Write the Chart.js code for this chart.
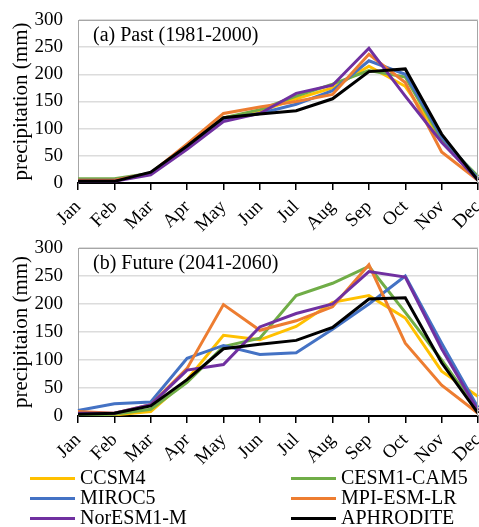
<!DOCTYPE html>
<html>
<head>
<meta charset="utf-8">
<script src="https://cdn.jsdelivr.net/npm/chart.js@4/dist/chart.umd.min.js"></script>
<style>
  body { margin: 0; background: #fff; width: 479px; height: 527px; overflow: hidden; position: relative; font-family: "Liberation Serif", serif; }
  canvas { position: absolute; left: 0; }
  #past { top: 0; }
  #future { top: 235px; }
  #legend { position: absolute; left: 0; top: 466px; width: 479px; }
  .item { position: absolute; height: 22px; font-size: 20px; line-height: 22px; color: #000; white-space: nowrap; }
  .item span.sw { position: absolute; left: 0; top: 11px; width: 45px; height: 3px; }
  .item span.lb { position: absolute; left: 50px; top: 0; }
</style>
</head>
<body>
<canvas id="past" width="479" height="235"></canvas>
<canvas id="future" width="479" height="240"></canvas>
<div id="legend"></div>
<script>
// months on the x axis
const months = ['Jan', 'Feb', 'Mar', 'Apr', 'May', 'Jun', 'Jul', 'Aug', 'Sep', 'Oct', 'Nov', 'Dec'];
const yMax = 300;
const yStep = 50;

const models = ['CCSM4', 'CESM1-CAM5', 'MIROC5', 'MPI-ESM-LR', 'NorESM1-M', 'APHRODITE'];
const colors = ['#FFC000', '#70AD47', '#4472C4', '#ED7D31', '#7030A0', '#000000'];

// (a) Past (1981-2000), mm
const pastCCSM4 = [5, 5, 18, 68, 120, 132, 155, 175, 215, 178, 80, 8];
const pastCESM1 = [8, 8, 18, 68, 120, 135, 160, 182, 207, 195, 80, 12];
const pastMIROC5 = [5, 5, 18, 68, 118, 128, 145, 170, 225, 200, 85, 8];
const pastMPI = [5, 5, 18, 72, 128, 140, 150, 163, 237, 185, 57, 5];
const pastNorESM = [3, 3, 15, 62, 113, 128, 165, 180, 248, 160, 75, 5];
const pastAphro = [3, 3, 20, 68, 120, 127, 133, 155, 205, 210, 90, 5];

// (b) Future (2041-2060), mm
const futCCSM4 = [0, 2, 8, 65, 144, 136, 160, 203, 215, 175, 80, 35];
const futCESM1 = [2, 3, 12, 60, 124, 139, 215, 237, 267, 185, 100, 10];
const futMIROC5 = [10, 22, 25, 103, 126, 110, 113, 155, 200, 250, 130, 15];
const futMPI = [8, 5, 20, 85, 199, 153, 170, 195, 270, 130, 55, 5];
const futNorESM = [5, 5, 20, 82, 92, 159, 183, 200, 258, 248, 120, 10];
const futAphro = [3, 5, 18, 65, 120, 128, 135, 158, 209, 211, 95, 5];

const serif = '"Liberation Serif", "Times New Roman", serif';

// frame on top/right and the panel caption
const frame = {
  id: 'frame',
  afterDraw(chart, args, opts) {
    const { ctx, chartArea: a } = chart;
    ctx.save();
    ctx.strokeStyle = '#a6a6a6';
    ctx.lineWidth = 1;
    ctx.beginPath();
    ctx.moveTo(a.left, a.top + 0.5);
    ctx.lineTo(a.right - 0.5, a.top + 0.5);
    ctx.lineTo(a.right - 0.5, a.bottom);
    ctx.stroke();
    ctx.font = '20px ' + serif;
    ctx.fillStyle = '#000';
    ctx.textBaseline = 'middle';
    ctx.fillText(opts.text, a.left + 15, a.top + 16);
    ctx.restore();
  }
};

function makeChart(id, series, caption, yTitle, padTop, xHeight) {
  const datasets = series.map((data, i) => ({
    label: models[i],
    data: data,
    borderColor: colors[i],
    backgroundColor: colors[i],
    borderWidth: 3,
    pointRadius: 0,
    tension: 0,
    fill: false,
    order: i === 5 ? 0 : 6 - i
  }));
  return new Chart(document.getElementById(id), {
    type: 'line',
    data: { labels: months, datasets: datasets },
    plugins: [frame],
    options: {
      responsive: false,
      animation: false,
      devicePixelRatio: 1,
      layout: { padding: { top: padTop, right: 1, left: 0, bottom: 0 } },
      plugins: {
        legend: { display: false },
        tooltip: { enabled: false },
        frame: { text: caption }
      },
      scales: {
        x: {
          offset: false,
          grid: { drawOnChartArea: false, drawTicks: true, tickLength: 7, color: '#000', lineWidth: 1.5 },
          border: { color: '#000', width: 2 },
          ticks: { autoSkip: false, color: '#000', font: { family: serif, size: 19 }, minRotation: 45, maxRotation: 45, padding: 6 },
          afterFit(s) { s.height = xHeight; s.paddingLeft = 0; s.paddingRight = 0; }
        },
        y: {
          min: 0,
          max: yMax,
          grid: { color: '#dcdcdc', lineWidth: 1.5, drawTicks: false },
          border: { color: '#a6a6a6', width: 1 },
          ticks: { autoSkip: false, stepSize: yStep, color: '#000', font: { family: serif, size: 19 }, padding: 15 },
          title: { display: true, text: yTitle, color: '#000', font: { family: serif, size: 21 }, padding: { top: 9, bottom: 0 } },
          afterFit(s) { s.width = 78; s.paddingTop = 0; s.paddingBottom = 0; }
        }
      }
    }
  });
}

makeChart('past', [pastCCSM4, pastCESM1, pastMIROC5, pastMPI, pastNorESM, pastAphro],
  '(a) Past (1981-2000)', 'precipitation (mm)', 20, 52);
makeChart('future', [futCCSM4, futCESM1, futMIROC5, futMPI, futNorESM, futAphro],
  '(b) Future (2041-2060)', 'precipitaion (mm)', 13, 59);

// legend in two columns, three rows
const legend = document.getElementById('legend');
models.forEach((name, i) => {
  const col = i % 2;
  const row = Math.floor(i / 2);
  const item = document.createElement('div');
  item.className = 'item';
  item.style.left = (col === 0 ? 30 : 291) + 'px';
  item.style.top = (row * 20) + 'px';
  item.innerHTML = '<span class="sw" style="background:' + colors[i] + '"></span><span class="lb">' + name + '</span>';
  legend.appendChild(item);
});
</script>
</body>
</html>
